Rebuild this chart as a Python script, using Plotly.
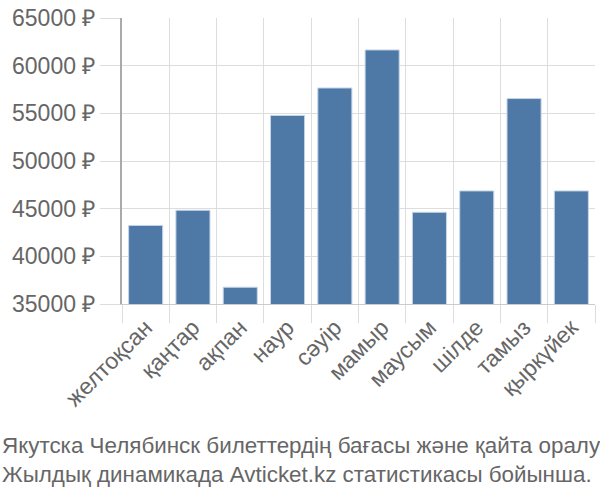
import plotly.graph_objects as go

categories = ["желтоқсан", "қаңтар", "ақпан", "наур", "сәуір", "мамыр",
              "маусым", "шілде", "тамыз", "қыркүйек"]
values = [43240, 44830, 36760, 54780, 57660, 61650, 44620, 46860, 56550, 46860]
y_ticks = [35000, 40000, 45000, 50000, 55000, 60000, 65000]
y_tick_labels = [f"{v} ₽" for v in y_ticks]
title_lines = ["Якутска Челябинск билеттердің бағасы және қайта оралу",
               "Жылдық динамикада Avticket.kz статистикасы бойынша."]

fig = go.Figure(go.Bar(
    x=categories, y=values,
    marker=dict(color="#4e79a7", line=dict(color="#c6d4e6", width=1)),
))

font = "Liberation Sans, Arial, sans-serif"
fig.update_layout(
    width=600, height=500,
    margin=dict(l=122, r=5, t=14, b=196),
    plot_bgcolor="white", paper_bgcolor="white",
    bargap=0.28,
    showlegend=False,
    font=dict(family=font, color="#666666", size=22),
    xaxis=dict(
        type="category", tickangle=-45, tickson="boundaries",
        showgrid=True, gridcolor="#dddddd", gridwidth=1,
        ticks="outside", ticklen=18, tickcolor="#dddddd",
        showline=True, linecolor="#cccccc", linewidth=1,
        tickfont=dict(size=23, color="#666666"),
    ),
    yaxis=dict(
        range=[35000, 65000], tickvals=y_ticks, ticktext=y_tick_labels,
        showgrid=True, gridcolor="#dddddd", gridwidth=1,
        ticks="outside", ticklen=20, tickcolor="#dddddd",
        showline=True, linecolor="#aaaaaa", linewidth=2,
        tickfont=dict(size=23, color="#666666"),
        zeroline=False,
    ),
    annotations=[dict(
        text="<br>".join(title_lines), xref="paper", yref="paper",
        x=-122/473, y=-(462-304)/290, xanchor="left", yanchor="middle",
        showarrow=False, align="left",
        font=dict(family=font, size=22.4, color="#666666"),
    )],
)

fig.write_html("out.html")
